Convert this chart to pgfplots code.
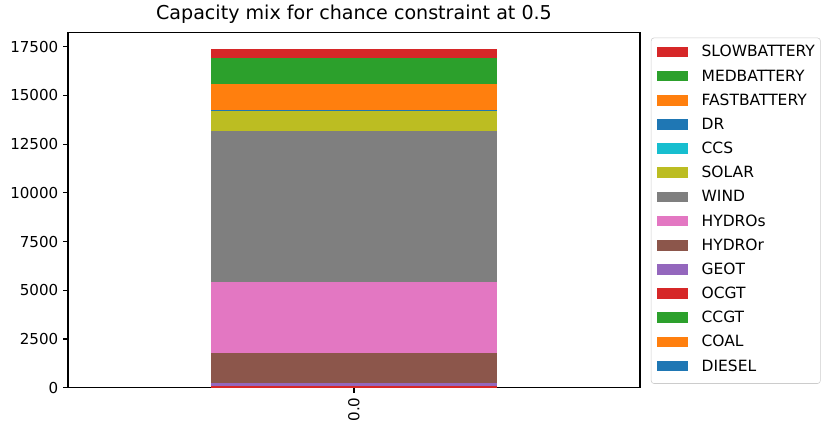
\documentclass[border=0pt]{standalone}
\usepackage{fontspec}
\setmainfont{DejaVu Sans}
\usepackage{pgfplots}
\pgfplotsset{compat=1.18}
\definecolor{C0}{HTML}{1F77B4}
\definecolor{C1}{HTML}{FF7F0E}
\definecolor{C2}{HTML}{2CA02C}
\definecolor{C3}{HTML}{D62728}
\definecolor{C4}{HTML}{9467BD}
\definecolor{C5}{HTML}{8C564B}
\definecolor{C6}{HTML}{E377C2}
\definecolor{C7}{HTML}{7F7F7F}
\definecolor{C8}{HTML}{BCBD22}
\definecolor{C9}{HTML}{17BECF}
\pgfplotsset{mybar/.style={fill=#1, draw=none,
  legend image code/.code={\fill[fill=#1, sharp corners] (0bp,-0.2bp) rectangle (22.3bp,7.5bp); \path (32.3bp,0bp);}}}
\begin{document}
\begin{tikzpicture}
\begin{axis}[
  scale only axis, width=411.8bp, height=256bp,
  at={(0,0)}, anchor=south west,
  ybar stacked, bar width=205.9bp,
  xmin=-0.5, xmax=0.5, ymin=0, ymax=18246,
  xtick={0}, xticklabels={0.0},
  x tick label style={rotate=90, anchor=east},
  ytick={0,2500,5000,7500,10000,12500,15000,17500},
  scaled y ticks=false,
  /pgf/number format/assume math mode=true,
  y tick label style={/pgf/number format/fixed, /pgf/number format/1000 sep={}},
  tick label style={font=\fontsize{10.9}{12}\selectfont},
  tick align=outside, major tick length=3.5bp,
  tick style={black, line width=0.8bp},
  xtick pos=bottom, ytick pos=left,
  axis line style={line width=0.8bp},
  title={Capacity mix for chance constraint at 0.5},
  title style={font=\fontsize{13.8}{16}\selectfont, yshift=-3bp},
  reverse legend,
  legend cell align=left,
  legend style={at={(1,1)}, anchor=north west, xshift=7.9bp, yshift=-4bp,
    draw=black!20, rounded corners=2bp, inner xsep=4bp, inner ysep=5.5bp,
    font=\fontsize{11.2}{13}\selectfont, row sep=5.8bp,
    nodes={inner sep=0pt, text height=8.2bp, text depth=3.4bp, anchor=base west}},
]
\addplot[mybar=C0] coordinates {(0,0)};
\addlegendentry{DIESEL}
\addplot[mybar=C1] coordinates {(0,0)};
\addlegendentry{COAL}
\addplot[mybar=C2] coordinates {(0,0)};
\addlegendentry{CCGT}
\addplot[mybar=C3] coordinates {(0,80)};
\addlegendentry{OCGT}
\addplot[mybar=C4] coordinates {(0,156)};
\addlegendentry{GEOT}
\addplot[mybar=C5] coordinates {(0,1560)};
\addlegendentry{HYDROr}
\addplot[mybar=C6] coordinates {(0,3608)};
\addlegendentry{HYDROs}
\addplot[mybar=C7] coordinates {(0,7765)};
\addlegendentry{WIND}
\addplot[mybar=C8] coordinates {(0,1011)};
\addlegendentry{SOLAR}
\addplot[mybar=C9] coordinates {(0,0)};
\addlegendentry{CCS}
\addplot[mybar=C0] coordinates {(0,50)};
\addlegendentry{DR}
\addplot[mybar=C1] coordinates {(0,1371)};
\addlegendentry{FASTBATTERY}
\addplot[mybar=C2] coordinates {(0,1314)};
\addlegendentry{MEDBATTERY}
\addplot[mybar=C3] coordinates {(0,462)};
\addlegendentry{SLOWBATTERY}
\end{axis}
\path[use as bounding box] (-48.96bp,-27.1bp) rectangle (544.3bp,278.8bp);
\end{tikzpicture}
\end{document}
